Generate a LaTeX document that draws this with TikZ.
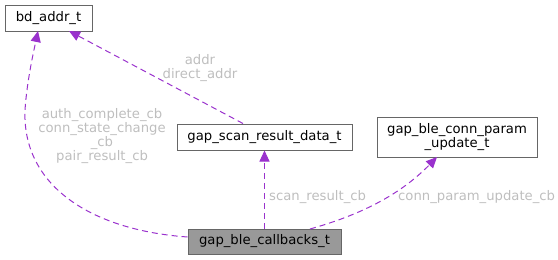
\documentclass[tikz,border=0pt]{standalone}
\usepackage{fontspec}
\setmainfont{DejaVu Sans}
\usetikzlibrary{arrows.meta}
\definecolor{edgec}{HTML}{9A32CD}
\definecolor{labc}{HTML}{BEBEBE}
\definecolor{boxc}{HTML}{666666}
\definecolor{fillc}{HTML}{999999}
\begin{document}
\begin{tikzpicture}[x=1pt,y=-1pt,
  box/.style={draw=boxc,line width=1pt,fill=white,inner sep=0pt,align=center,font=\fontsize{13.2}{14.2}\selectfont},
  dep/.style={draw=edgec,line width=1pt,dash pattern=on 6pt off 4pt,-{Triangle[length=11pt,width=10pt]}},
  lab/.style={text=labc,align=center,font=\fontsize{13.2}{14.2}\selectfont,inner sep=0pt}]
\useasboundingbox (0,0) rectangle (558,260);
\node[box,minimum width=87pt,minimum height=26pt] (bd) at (48.5,18) {bd\_addr\_t};
\node[box,minimum width=175pt,minimum height=26pt] (scan) at (264.5,137) {gap\_scan\_result\_data\_t};
\node[box,minimum width=160pt,minimum height=40pt] (conn) at (457,137) {gap\_ble\_conn\_param\\\_update\_t};
\node[box,fill=fillc,minimum width=153pt,minimum height=25pt] (cb) at (264.5,241.5) {gap\_ble\_callbacks\_t};
\draw[dep] (cb.west |- 0,237) .. controls (90,230) and (22,185) .. (25,110) .. controls (27,80) and (34,50) .. (38,31);
\draw[dep] (scan.north -| 243,0) -- (69,31);
\draw[dep] (cb.north) -- (scan.south);
\draw[dep] (310,229) .. controls (360,215) and (400,195) .. (437,157);
\node[lab] (l1) at (102,136) {auth\_complete\_cb\\conn\_state\_change\\\_cb\\pair\_result\_cb};
\node[lab] (l2) at (200,68) {addr\\direct\_addr};
\node[lab,anchor=west] (l3) at (269,197) {scan\_result\_cb};
\node[lab,anchor=west] (l4) at (398,197) {conn\_param\_update\_cb};
\end{tikzpicture}
\end{document}
